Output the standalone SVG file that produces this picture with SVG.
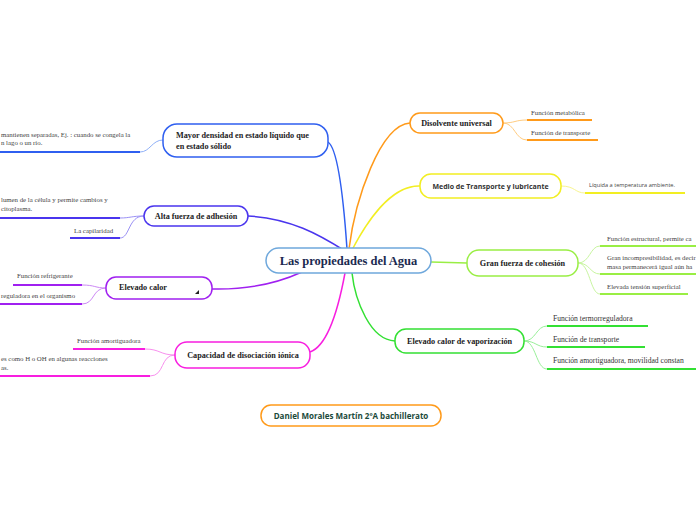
<svg xmlns="http://www.w3.org/2000/svg" width="696" height="520" viewBox="0 0 696 520">
<style>
.node{fill:#fff;stroke-width:1.5}
.lbl{font-family:"Liberation Serif","DejaVu Serif",serif;font-weight:bold;font-size:8.2px;fill:#222}
.sub{font-family:"Liberation Serif","DejaVu Serif",serif;font-size:6.8px;fill:#444}
.sub2{font-family:"Liberation Serif","DejaVu Serif",serif;font-size:7.6px;fill:#333}
.sans{font-family:"Open Sans","Liberation Sans",sans-serif}
.main{fill:none;stroke-width:1.5}
.u{fill:none;stroke-width:2}
.c{fill:none;stroke-width:1}
</style>
<rect width="696" height="520" fill="#fff"/>
<g id="connectors">
<path class="main" stroke="#2f5ff0" d="M328,142 C340,150 345,220 347,249"/>
<path class="main" stroke="#4a35ee" d="M248,216 C290,218 320,235 345,251"/>
<path class="main" stroke="#a020f0" d="M212,289 C250,290 280,282 302,272"/>
<path class="main" stroke="#f81ee0" d="M310,352 C330,345 340,300 345,273"/>
<path class="main" stroke="#ff9a1a" d="M410,123 C380,125 355,200 349,249"/>
<path class="main" stroke="#f2ee22" d="M420,186 C390,185 365,225 352,250"/>
<path class="main" stroke="#99ee44" d="M431,262 L467,263"/>
<path class="main" stroke="#33e033" d="M395,341 C370,340 355,300 352,273"/>
<path class="c" stroke="#8fb0f8" d="M163,140 C152,140 150,152 140,152"/>
<path class="u" stroke="#2f5ff0" d="M140,152 L0,152"/>
<path class="c" stroke="#9a90f5" d="M144,216 C132,216 130,218 120,218"/>
<path class="u" stroke="#4a35ee" d="M120,218 L0,218"/>
<path class="c" stroke="#9a90f5" d="M144,216 C128,216 130,238 120,238"/>
<path class="u" stroke="#4a35ee" d="M120,238 L70,238"/>
<path class="c" stroke="#cc88f5" d="M106,288 C95,288 95,285 82,285"/>
<path class="u" stroke="#a020f0" d="M82,285 L13,285"/>
<path class="c" stroke="#cc88f5" d="M106,288 C92,288 95,304 82,304"/>
<path class="u" stroke="#a020f0" d="M82,304 L0,304"/>
<path class="c" stroke="#f890ee" d="M175,355 C160,355 160,349 145,349"/>
<path class="u" stroke="#f81ee0" d="M145,349 L73,349"/>
<path class="c" stroke="#f890ee" d="M175,355 C160,355 165,376 150,376"/>
<path class="u" stroke="#f81ee0" d="M150,376 L0,376"/>
<path class="c" stroke="#ffcc80" d="M503,123 C515,123 515,120 527,120"/>
<path class="u" stroke="#ff9a1a" d="M527,120 L592,120"/>
<path class="c" stroke="#ffcc80" d="M503,123 C515,123 515,140 527,140"/>
<path class="u" stroke="#ff9a1a" d="M527,140 L598,140"/>
<path class="c" stroke="#f8f590" d="M561,186 C575,186 575,193 585,193"/>
<path class="u" stroke="#f2ee22" d="M585,193 L685,193"/>
<path class="c" stroke="#c8f5a0" d="M578,263 C590,263 590,246 600,246"/>
<path class="u" stroke="#99ee44" d="M600,246 L696,246"/>
<path class="c" stroke="#c8f5a0" d="M578,263 C590,263 590,274 600,274"/>
<path class="u" stroke="#99ee44" d="M600,274 L696,274"/>
<path class="c" stroke="#c8f5a0" d="M578,263 C590,263 590,294 600,294"/>
<path class="u" stroke="#99ee44" d="M600,294 L688,294"/>
<path class="c" stroke="#99f099" d="M524,341 C536,341 536,326 547,326"/>
<path class="u" stroke="#33e033" d="M547,326 L648,326"/>
<path class="c" stroke="#99f099" d="M524,341 C536,341 536,347 547,347"/>
<path class="u" stroke="#33e033" d="M547,347 L645,347"/>
<path class="c" stroke="#99f099" d="M524,341 C536,341 536,369 547,369"/>
<path class="u" stroke="#33e033" d="M547,369 L696,369"/>
</g>
<g id="center">
<rect class="node" x="266" y="248" width="165" height="25" rx="12.5" stroke="#6fa8dc" stroke-width="2"/>
<text x="348.5" y="265" text-anchor="middle" font-family="Liberation Serif, DejaVu Serif, serif" font-weight="bold" font-size="12.5" fill="#1b2a50">Las propiedades del Agua</text>
</g>
<g id="densidad">
<rect class="node" x="163" y="124" width="165" height="33" rx="14" stroke="#2f5ff0"/>
<text class="lbl" x="176" y="138">Mayor densidad en estado líquido que</text>
<text class="lbl" x="176" y="149">en estado sólido</text>
<text class="sub" x="1" y="137">mantienen separadas, Ej. : cuando se congela la</text>
<text class="sub" x="1" y="145">n lago o un río.</text>
</g>
<g id="adhesion">
<rect class="node" x="144" y="206" width="104" height="20" rx="10" stroke="#4a35ee"/>
<text class="lbl" x="196" y="219" text-anchor="middle">Alta fuerza de adhesión</text>
<text class="sub" x="1" y="202">lumen de la célula y permite cambios y</text>
<text class="sub" x="1" y="211">citoplasma.</text>
<text class="sub" x="74" y="233">La capilaridad</text>
</g>
<g id="calor-especifico">
<rect class="node" x="106" y="277" width="106" height="22" rx="10" stroke="#a020f0"/>
<text class="lbl" x="119" y="290">Elevado calor</text>
<polygon points="199,290 199,294 195,294" fill="#222"/>
<text class="sub" x="17" y="278">Función refrigerante</text>
<text class="sub" x="1" y="298">reguladora en el organismo</text>
</g>
<g id="disociacion">
<rect class="node" x="175" y="342" width="135" height="26" rx="12" stroke="#f81ee0"/>
<text class="lbl" x="243" y="358" text-anchor="middle">Capacidad de disociación iónica</text>
<text class="sub" x="77" y="343">Función amortiguadora</text>
<text class="sub" x="1" y="361">es como H  o OH  en algunas reacciones</text>
<text class="sub" x="1" y="370">as.</text>
</g>
<g id="disolvente">
<rect class="node" x="410" y="113" width="93" height="20" rx="10" stroke="#ff9a1a"/>
<text class="lbl" x="456.5" y="126" text-anchor="middle">Disolvente universal</text>
<text class="sub" x="531" y="115">Función metabólica</text>
<text class="sub" x="531" y="135">Función de transporte</text>
</g>
<g id="transporte">
<rect class="node" x="420" y="174" width="141" height="24" rx="11" stroke="#f2ee22"/>
<text class="sans" x="490.5" y="189" text-anchor="middle" font-weight="bold" font-size="7" fill="#333">Medio de Transporte y lubricante</text>
<text class="sans" x="589" y="187" font-size="5.6" fill="#444">Líquida a temperatura ambiente.</text>
</g>
<g id="cohesion">
<rect class="node" x="467" y="250" width="111" height="26" rx="12" stroke="#99ee44"/>
<text class="lbl" x="522.5" y="266" text-anchor="middle">Gran fuerza de cohesión</text>
<text class="sub" x="607" y="241">Función estructural, permite ca</text>
<text class="sub" x="607" y="260">Gran incompresibilidad, es decir</text>
<text class="sub" x="607" y="269">masa permanecerá igual aún ha</text>
<text class="sub" x="607" y="289">Elevada tensión superficial</text>
</g>
<g id="vaporizacion">
<rect class="node" x="395" y="329" width="129" height="24" rx="11" stroke="#33e033"/>
<text class="lbl" x="459.5" y="344" text-anchor="middle">Elevado calor de vaporización</text>
<text class="sub2" x="553" y="321">Función termorreguladora</text>
<text class="sub2" x="553" y="342">Función de transporte</text>
<text class="sub2" x="553" y="363">Función amortiguadora, movilidad constan</text>
</g>
<g id="autor">
<rect class="node" x="261" y="405" width="180" height="21" rx="10" stroke="#ff9a1a"/>
<text class="sans" x="351" y="419" text-anchor="middle" font-weight="bold" font-size="8" fill="#1a4a3a">Daniel Morales Martín 2ºA bachillerato</text>
</g>
</svg>
